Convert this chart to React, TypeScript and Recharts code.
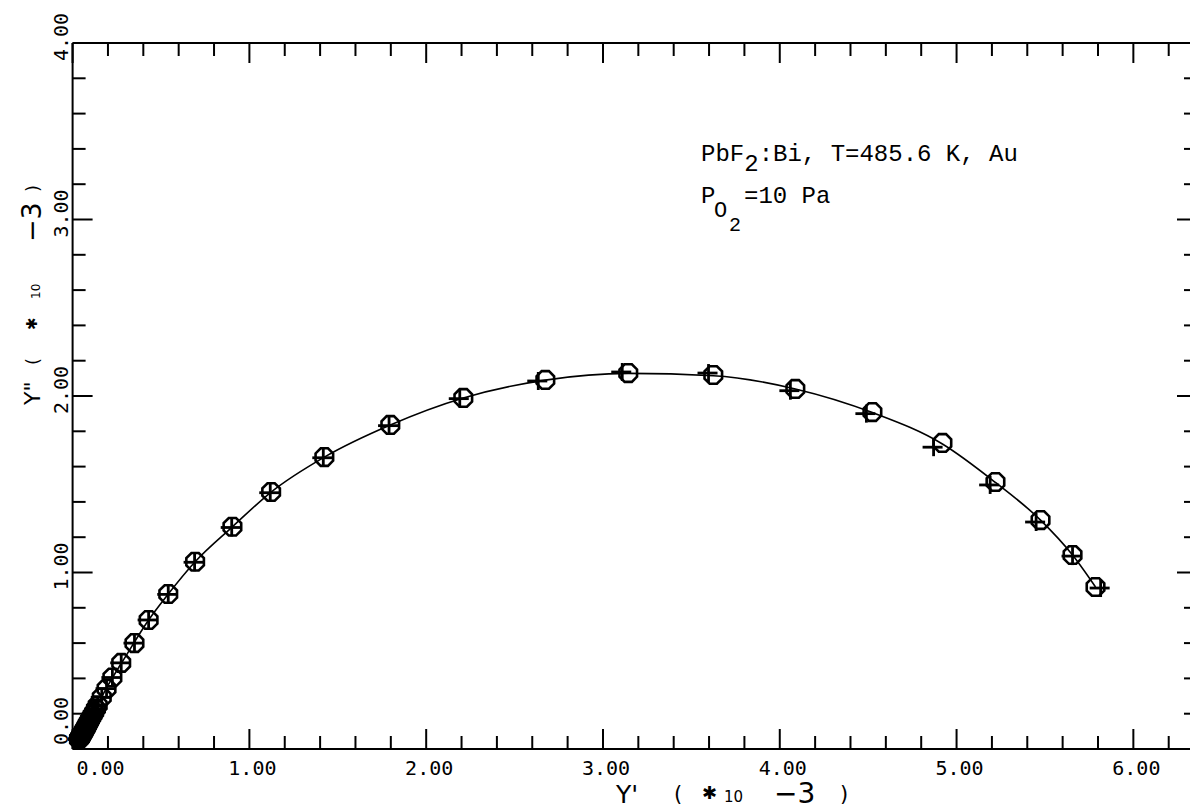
import React from 'react';
import { ComposedChart, XAxis, YAxis, Line, Scatter } from 'recharts';

// ---------- data ----------
const xTicks = [0, 0.2, 0.4, 0.6, 0.8, 1, 1.2, 1.4, 1.6, 1.8, 2, 2.2, 2.4, 2.6, 2.8, 3, 3.2, 3.4, 3.6, 3.8, 4, 4.2, 4.4, 4.6, 4.8, 5, 5.2, 5.4, 5.6, 5.8, 6, 6.2];
const yTicks = [0, 0.2, 0.4, 0.6, 0.8, 1, 1.2, 1.4, 1.6, 1.8, 2, 2.2, 2.4, 2.6, 2.8, 3, 3.2, 3.4, 3.6, 3.8, 4];
const X_MAX = 6.36;
const Y_MAX = 4;

// dense high-frequency cluster near the origin
const originCluster = [
  { x: 0.036, y: 0.054 }, { x: 0.037, y: 0.056 }, { x: 0.038, y: 0.058 }, { x: 0.04, y: 0.06 },
  { x: 0.041, y: 0.062 }, { x: 0.043, y: 0.065 }, { x: 0.044, y: 0.068 }, { x: 0.046, y: 0.071 },
  { x: 0.048, y: 0.074 }, { x: 0.05, y: 0.078 }, { x: 0.052, y: 0.082 }, { x: 0.055, y: 0.086 },
  { x: 0.058, y: 0.091 }, { x: 0.061, y: 0.096 }, { x: 0.064, y: 0.102 }, { x: 0.068, y: 0.109 },
  { x: 0.072, y: 0.116 }, { x: 0.076, y: 0.124 }, { x: 0.081, y: 0.133 }, { x: 0.086, y: 0.143 },
  { x: 0.092, y: 0.154 }, { x: 0.098, y: 0.166 }, { x: 0.105, y: 0.179 }, { x: 0.113, y: 0.193 },
  { x: 0.122, y: 0.209 }, { x: 0.132, y: 0.228 }, { x: 0.142, y: 0.248 }, { x: 0.165, y: 0.293 },
  { x: 0.192, y: 0.342 }, { x: 0.225, y: 0.405 }, { x: 0.275, y: 0.488 }, { x: 0.35, y: 0.6 },
];

const circleArc = [
  { x: 0.43, y: 0.731 }, { x: 0.541, y: 0.878 }, { x: 0.693, y: 1.061 }, { x: 0.904, y: 1.259 },
  { x: 1.123, y: 1.456 }, { x: 1.424, y: 1.654 }, { x: 1.797, y: 1.836 }, { x: 2.21, y: 1.989 },
  { x: 2.674, y: 2.091 }, { x: 3.143, y: 2.13 }, { x: 3.624, y: 2.119 }, { x: 4.088, y: 2.04 },
  { x: 4.524, y: 1.909 }, { x: 4.92, y: 1.734 }, { x: 5.22, y: 1.513 }, { x: 5.475, y: 1.297 },
  { x: 5.656, y: 1.099 }, { x: 5.786, y: 0.918 },
];

const plusArc = [
  { x: 0.43, y: 0.731 }, { x: 0.541, y: 0.876 }, { x: 0.69, y: 1.058 }, { x: 0.9, y: 1.255 },
  { x: 1.118, y: 1.452 }, { x: 1.418, y: 1.65 }, { x: 1.79, y: 1.832 }, { x: 2.19, y: 1.985 },
  { x: 2.634, y: 2.085 }, { x: 3.109, y: 2.136 }, { x: 3.597, y: 2.13 }, { x: 4.06, y: 2.03 },
  { x: 4.49, y: 1.9 }, { x: 4.87, y: 1.71 }, { x: 5.19, y: 1.496 }, { x: 5.45, y: 1.286 },
  { x: 5.656, y: 1.093 }, { x: 5.815, y: 0.912 },
];

const fitCurve = [
  { x: 0.03, y: 0.045 }, { x: 0.1, y: 0.17 }, { x: 0.2, y: 0.36 }, { x: 0.3, y: 0.525 },
  { x: 0.43, y: 0.731 }, { x: 0.541, y: 0.878 }, { x: 0.693, y: 1.061 }, { x: 0.904, y: 1.259 },
  { x: 1.123, y: 1.456 }, { x: 1.424, y: 1.654 }, { x: 1.797, y: 1.836 }, { x: 2.21, y: 1.989 },
  { x: 2.674, y: 2.09 }, { x: 3.143, y: 2.128 }, { x: 3.624, y: 2.115 }, { x: 4.088, y: 2.04 },
  { x: 4.524, y: 1.906 }, { x: 4.92, y: 1.728 }, { x: 5.22, y: 1.51 }, { x: 5.475, y: 1.297 },
  { x: 5.656, y: 1.099 }, { x: 5.786, y: 0.918 },
];

const circlePoints = [...originCluster, ...circleArc];
const plusPoints = [...originCluster, ...plusArc];

// ---------- styling helpers ----------
const LABEL_FONT = 'DejaVu Sans Mono';
const TITLE_FONT = 'DejaVu Sans';
const isMajor = (v: number) => Math.abs(v - Math.round(v)) < 1e-6;
const MAJOR_LEN = 20;
const MINOR_LEN = 13;

const BottomTick = (props: any) => {
  const { x, y, payload } = props;
  const v = payload.value as number;
  const major = isMajor(v);
  return (
    <g>
      <line x1={x} x2={x} y1={y} y2={y - (major ? MAJOR_LEN : MINOR_LEN)} stroke="#000" strokeWidth={2} />
      {major && (
        <text x={x + (v === 0 ? 28 : 3)} y={y + 26} textAnchor="middle" fontFamily={LABEL_FONT} fontSize={20} fill="#000">
          {v.toFixed(2)}
        </text>
      )}
    </g>
  );
};

const TopTick = (props: any) => {
  const { x, y, payload } = props;
  const major = isMajor(payload.value);
  return <line x1={x} x2={x} y1={y} y2={y + (major ? MAJOR_LEN : MINOR_LEN)} stroke="#000" strokeWidth={2} />;
};

const LeftTick = (props: any) => {
  const { x, y, payload } = props;
  const v = payload.value as number;
  const major = isMajor(v);
  const cy = y + (v === 0 ? -28 : -6);
  return (
    <g>
      <line x1={x} x2={x + (major ? MAJOR_LEN : MINOR_LEN)} y1={y} y2={y} stroke="#000" strokeWidth={2} />
      {major && (
        <text x={0} y={0} transform={`translate(${x - 5}, ${cy}) rotate(-90)`} textAnchor="middle" fontFamily={LABEL_FONT} fontSize={20} fill="#000">
          {v.toFixed(2)}
        </text>
      )}
    </g>
  );
};

const RightTick = (props: any) => {
  const { x, y, payload } = props;
  const major = isMajor(payload.value);
  return <line x1={x} x2={x - (major ? MAJOR_LEN : MINOR_LEN)} y1={y} y2={y} stroke="#000" strokeWidth={2} />;
};

const Octagon = (props: any) => {
  const { cx, cy } = props;
  if (cx == null || cy == null) return null;
  const r = 9.5;
  const pts: string[] = [];
  for (let i = 0; i < 8; i++) {
    const a = (Math.PI / 8) + (i * Math.PI) / 4;
    pts.push(`${cx + r * Math.cos(a)},${cy + r * Math.sin(a)}`);
  }
  return <polygon points={pts.join(' ')} fill="none" stroke="#000" strokeWidth={2.6} />;
};

const PlusMark = (props: any) => {
  const { cx, cy } = props;
  if (cx == null || cy == null) return null;
  const s = 9;
  return (
    <g stroke="#000" strokeWidth={2.8}>
      <line x1={cx - s - 2} x2={cx + s} y1={cy} y2={cy} />
      <line x1={cx} x2={cx} y1={cy - s} y2={cy + s} />
    </g>
  );
};

const Hidden = () => <g />;

export default function App() {
  return (
    <div style={{ position: 'absolute', left: 0, top: 0, width: 1190, height: 809, overflow: 'hidden', background: '#fff' }}>
      <ComposedChart width={1198} height={809} margin={{ top: 42, right: 0, bottom: 0, left: 0 }}>
        <XAxis
          xAxisId="b" type="number" dataKey="x" orientation="bottom" domain={[0, X_MAX]} ticks={xTicks}
          interval={0} height={60} axisLine={{ stroke: '#000', strokeWidth: 2 }}
          tickLine={false} tickSize={0} tickMargin={0} tick={<BottomTick />}
        />
        <XAxis
          xAxisId="t" type="number" dataKey="x" orientation="top" domain={[0, X_MAX]} ticks={xTicks}
          interval={0} height={1} axisLine={{ stroke: '#000', strokeWidth: 2 }}
          tickLine={false} tickSize={0} tickMargin={0} tick={<TopTick />}
        />
        <YAxis
          yAxisId="l" type="number" dataKey="y" orientation="left" domain={[0, Y_MAX]} ticks={yTicks}
          interval={0} width={72.6} axisLine={{ stroke: '#000', strokeWidth: 2 }}
          tickLine={false} tickSize={0} tickMargin={0} tick={<LeftTick />}
        />
        <YAxis
          yAxisId="r" type="number" dataKey="y" orientation="right" domain={[0, Y_MAX]} ticks={yTicks}
          interval={0} width={1} axisLine={{ stroke: '#000', strokeWidth: 2 }}
          tickLine={false} tickSize={0} tickMargin={0} tick={<RightTick />}
        />
        <Line
          xAxisId="b" yAxisId="l" data={fitCurve} dataKey="y" type="monotone" dot={false}
          stroke="#000" strokeWidth={1.6} isAnimationActive={false}
        />
        <Scatter xAxisId="b" yAxisId="l" data={circlePoints} dataKey="y" shape={Octagon} isAnimationActive={false} />
        <Scatter xAxisId="b" yAxisId="l" data={plusPoints} dataKey="y" shape={PlusMark} isAnimationActive={false} />
        <Scatter xAxisId="t" yAxisId="r" data={circleArc} dataKey="y" shape={Hidden} isAnimationActive={false} />
      </ComposedChart>

      <svg width={1190} height={809} style={{ position: 'absolute', left: 0, top: 0, pointerEvents: 'none' }}>
        {/* annotation */}
        <text x={701} y={161} fontFamily="Liberation Mono" fontSize={24} fill="#000">
          PbF
          <tspan dy={10}>2</tspan>
          <tspan dy={-10}>:Bi, T=485.6 K, Au</tspan>
        </text>
        <text x={701} y={203} fontFamily="Liberation Mono" fontSize={24} fill="#000">P</text>
        <text x={714} y={217} fontFamily="Liberation Mono" fontSize={22} fill="#000">O</text>
        <text x={729} y={231} fontFamily="Liberation Mono" fontSize={20} fill="#000">2</text>
        <text x={744} y={203} fontFamily="Liberation Mono" fontSize={24} fill="#000">=10 Pa</text>

        {/* x axis title */}
        <g fontFamily={TITLE_FONT} fill="#000">
          <text x={616} y={803} fontSize={25}>Y'</text>
          <text x={674} y={801} fontSize={21}>(</text>
          <text x={702} y={799} fontSize={18}>✱</text>
          <text x={724} y={802} fontSize={15}>10</text>
          <text x={774} y={803} fontSize={28}>−3</text>
          <text x={840} y={801} fontSize={21}>)</text>
        </g>

        {/* y axis title */}
        <g fontFamily={TITLE_FONT} fill="#000" transform="translate(40, 405) rotate(-90)">
          <text x={0} y={0} fontSize={22}>Y"</text>
          <text x={40} y={-1} fontSize={18}>(</text>
          <text x={75} y={-3} fontSize={15}>✱</text>
          <text x={106} y={0} fontSize={12}>10</text>
          <text x={163} y={1} fontSize={27}>−3</text>
          <text x={213} y={-1} fontSize={18}>)</text>
        </g>
      </svg>
    </div>
  );
}
